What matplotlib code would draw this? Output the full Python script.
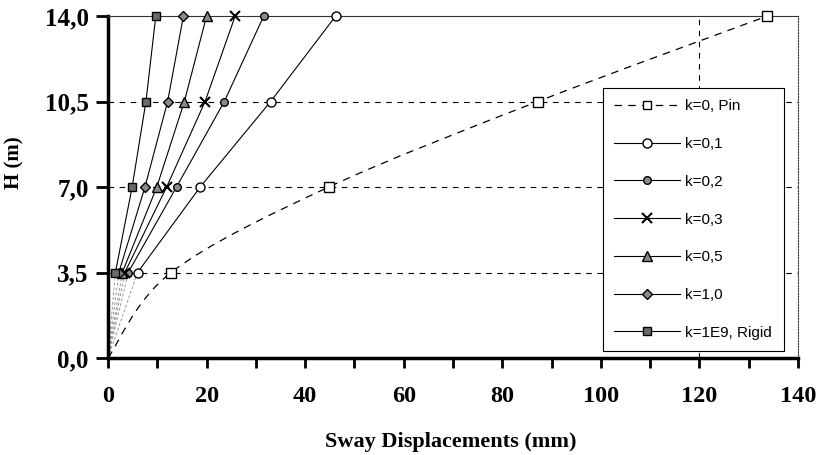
import numpy as np
import matplotlib
matplotlib.use('Agg')
import matplotlib.pyplot as plt
from matplotlib.path import Path
from matplotlib.patches import PathPatch
from matplotlib.lines import Line2D

# storey heights (m) and sway displacements (mm) for each connection stiffness
heights = [0.0, 3.5, 7.0, 10.5, 14.0]
sway_pin = [0, 12.8, 44.8, 87.2, 133.8]
sway_k01 = [0, 6.0, 18.7, 33.0, 46.2]
sway_k02 = [0, 4.1, 13.9, 23.6, 31.6]
sway_k03 = [0, 3.4, 11.9, 19.7, 25.8]
sway_k05 = [0, 2.9, 9.9, 15.5, 20.0]
sway_k10 = [0, 2.2, 7.5, 12.1, 15.3]
sway_rigid = [0, 1.5, 4.9, 7.7, 9.7]

series_labels = ['k=0, Pin', 'k=0,1', 'k=0,2', 'k=0,3', 'k=0,5', 'k=1,0', 'k=1E9, Rigid']

yticks = [0, 3.5, 7, 10.5, 14]
ytick_labels = ['0,0', '3,5', '7,0', '10,5', '14,0']
xticks = [0, 20, 40, 60, 80, 100, 120, 140]
xtick_labels = ['0', '20', '40', '60', '80', '100', '120', '140']
xticks_minor = [10, 30, 50, 70, 90, 110, 130]

serif = 'Liberation Serif'
sans = 'Liberation Sans'


def smooth_path(xs, ys):
    # excel-like smoothed line through the points
    pts = np.column_stack([xs, ys]).astype(float)
    n = len(pts)
    verts = [pts[0]]
    codes = [Path.MOVETO]
    for i in range(n - 1):
        p_prev = pts[i - 1] if i > 0 else pts[i]
        p_next = pts[i + 2] if i + 2 < n else pts[i + 1]
        c1 = pts[i] + (pts[i + 1] - p_prev) / 6
        c2 = pts[i + 1] - (p_next - pts[i]) / 6
        verts += [c1, c2, pts[i + 1]]
        codes += [Path.CURVE4] * 3
    return Path(verts, codes)


fig = plt.figure(figsize=(8.2, 4.55), dpi=100)
ax = fig.add_axes([108 / 820, 1 - 358 / 455, 690 / 820, 342 / 455])
ax.set_xlim(0, 140)
ax.set_ylim(0, 14)

# grid: dashed horizontals, one dashed vertical at 120
for h in yticks[1:-1]:
    ax.axhline(h, color='black', lw=0.8, ls=(0, (5, 5)), zorder=1)
ax.axvline(120, color='black', lw=0.8, ls=(0, (5, 5)), zorder=1)

# k=0 pin: smooth dashed curve
pin_patch = PathPatch(smooth_path(sway_pin, heights), facecolor='none', edgecolor='black',
                      lw=0.9, ls=(0, (6, 5)), zorder=2)
ax.add_patch(pin_patch)
ax.plot(sway_pin[1:], heights[1:], ls='none', marker='s', ms=6.5, mfc='white', mec='black',
        mew=1.0, zorder=4, clip_on=False)
handles = [Line2D([], [], color='black', lw=0.9, ls=(0, (6, 5)), marker='s', ms=6,
                  mfc='white', mec='black', mew=1.0)]

styles = [
    (sway_k01, dict(marker='o', ms=6.5, mfc='white', mec='black', mew=1.0)),
    (sway_k02, dict(marker='o', ms=5.5, mfc='#8a8a8a', mec='black', mew=1.0)),
    (sway_k03, dict(marker='x', ms=7.5, mec='black', mew=1.5)),
    (sway_k05, dict(marker='^', ms=6.5, mfc='#8a8a8a', mec='black', mew=1.0)),
    (sway_k10, dict(marker='D', ms=5.5, mfc='#8a8a8a', mec='black', mew=1.0)),
    (sway_rigid, dict(marker='s', ms=5.5, mfc='#6a6a6a', mec='black', mew=1.0)),
]

for vals, mk in styles:
    # base segment drawn light
    ax.plot(vals[:2], heights[:2], color='#999999', lw=0.7, ls=(0, (3, 2)), zorder=2)
    line, = ax.plot(vals[1:], heights[1:], color='black', lw=0.8, zorder=3, clip_on=False, **mk)
    handles.append(line)

ax.legend(handles, series_labels, loc='upper left',
          bbox_to_anchor=(603 / 820, 1 - 88 / 455), bbox_transform=fig.transFigure,
          borderaxespad=0, prop={'family': sans, 'size': 11}, frameon=True, fancybox=False,
          edgecolor='black', framealpha=1, handlelength=4.3, handletextpad=0.35,
          labelspacing=1.55, borderpad=0.75)
ax.get_legend().get_frame().set_linewidth(0.8)

# spines
for s in ['left', 'bottom']:
    ax.spines[s].set_linewidth(2.5)
ax.spines['top'].set_linewidth(0.8)
ax.spines['top'].set_color('#333333')
ax.spines['right'].set_linewidth(0.8)
ax.spines['right'].set_linestyle((0, (1, 1.5)))
ax.spines['right'].set_color('#333333')

ax.set_xticks(xticks)
ax.set_xticklabels(xtick_labels, fontfamily=serif, fontweight='bold', fontsize=17.5)
ax.set_xticks(xticks_minor, minor=True)
ax.set_yticks(yticks)
ax.set_yticklabels(ytick_labels, fontfamily=serif, fontweight='bold', fontsize=18)
ax.tick_params(axis='x', which='both', direction='out', length=7, width=2, pad=13)
ax.tick_params(axis='y', which='both', direction='out', length=9, width=2, pad=5)

ax.set_xlabel('Sway Displacements (mm)', fontfamily=serif, fontweight='bold', fontsize=16)
ax.xaxis.set_label_coords(0.497, -0.246)
ax.xaxis.label.set_va('center')
ax.set_ylabel('H (m)', fontfamily=serif, fontweight='bold', fontsize=15)
ax.yaxis.set_label_coords(-0.135, 0.57)
ax.yaxis.label.set_va('center')

fig.savefig('out.png', dpi=100)
